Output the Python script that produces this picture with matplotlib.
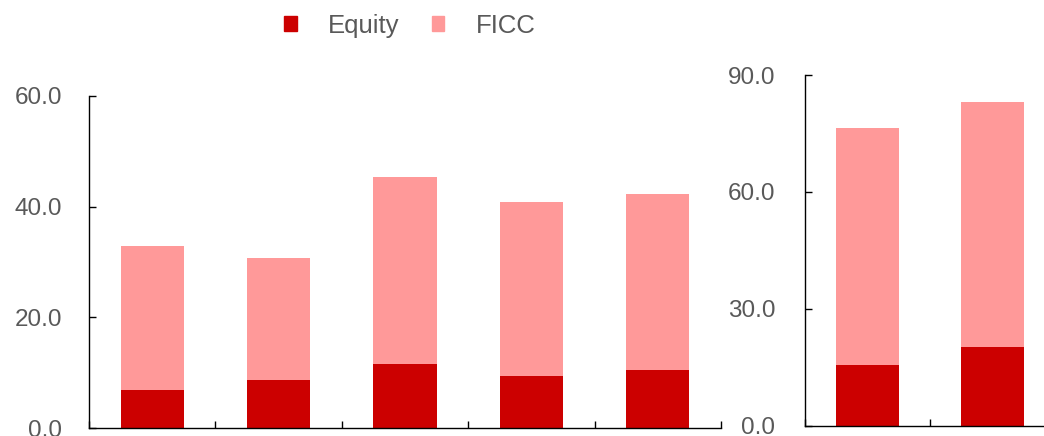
import matplotlib
matplotlib.use("Agg")
import matplotlib.pyplot as plt
from matplotlib.patches import Patch
import numpy as np

plt.rcParams['font.family'] = ['Liberation Sans', 'DejaVu Sans']

# Left panel (5 periods)
left_equity = [6.9, 8.7, 11.6, 9.4, 10.5]
left_ficc_total = [32.9, 30.7, 45.4, 40.8, 42.3]
left_ficc = [t - e for t, e in zip(left_ficc_total, left_equity)]
left_yticks = [0, 20, 40, 60]

# Right panel (2 periods)
right_equity = [15.6, 20.1]
right_ficc_total = [76.3, 83.0]
right_ficc = [t - e for t, e in zip(right_ficc_total, right_equity)]
right_yticks = [0, 30, 60, 90]

series_names = ["Equity", "FICC"]
c_eq = "#CC0000"
c_ficc = "#FF9999"
txt = "#595959"
fs = 17.5

W, H = 1044, 436
fig = plt.figure(figsize=(W / 100, H / 100), dpi=100)

ax1 = fig.add_axes([89 / W, (H - 428) / H, 632 / W, 332 / H])
ax2 = fig.add_axes([805 / W, (H - 425.7) / H, 250 / W, 350.7 / H])

def draw(ax, eq, ficc, yticks, pad):
    x = np.arange(len(eq))
    ax.bar(x, eq, width=0.5, color=c_eq, zorder=2)
    ax.bar(x, ficc, bottom=eq, width=0.5, color=c_ficc, zorder=2)
    ax.set_xlim(-0.5, len(eq) - 0.5)
    ax.set_ylim(yticks[0], yticks[-1])
    ax.set_yticks(yticks)
    ax.set_yticklabels([f"{v:.1f}" for v in yticks])
    ax.set_xticks(np.arange(-0.5, len(eq), 1.0))
    ax.set_xticklabels([])
    ax.tick_params(axis='y', direction='in', length=5, width=1, colors='black',
                   labelcolor=txt, labelsize=fs, pad=pad)
    ax.tick_params(axis='x', direction='in', length=5, width=1, colors='black')
    for s in ['top', 'right']:
        ax.spines[s].set_visible(False)
    for s in ['left', 'bottom']:
        ax.spines[s].set_linewidth(1.0)
        ax.spines[s].set_color('black')
    ax.set_facecolor('none')

draw(ax1, left_equity, left_ficc, left_yticks, 19.5)
draw(ax2, right_equity, right_ficc, right_yticks, 21.5)

handles = [Patch(color=c_eq), Patch(color=c_ficc)]
fig.legend(handles, series_names, loc='center', bbox_to_anchor=(0.3927, 0.941),
           ncol=2, frameon=False, fontsize=18.5, labelcolor=txt,
           handlelength=0.49, handleheight=0.49, handletextpad=1.22,
           columnspacing=1.25, borderpad=0, borderaxespad=0)

fig.savefig("out.png", dpi=100)
